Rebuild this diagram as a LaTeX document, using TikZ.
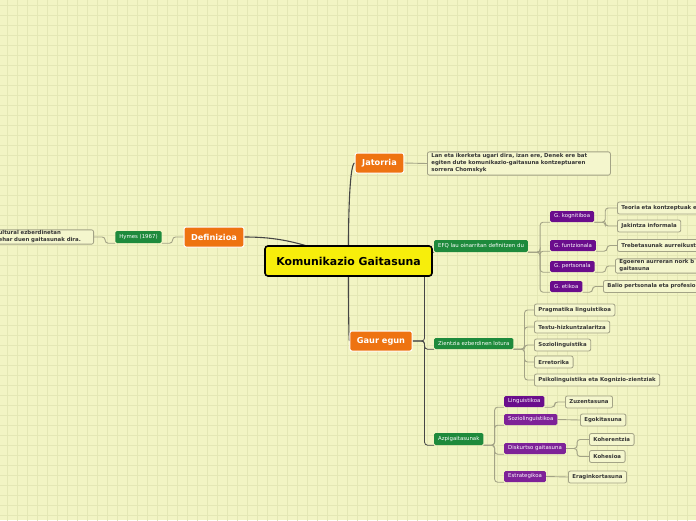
\documentclass[tikz,border=0pt]{standalone}
\usepackage{fontspec}
\setmainfont{DejaVu Sans}
\definecolor{bgmap}{HTML}{F2F4C4}
\definecolor{gridmap}{HTML}{E4E7B5}
\definecolor{orangemap}{HTML}{EE7311}
\definecolor{greenmap}{HTML}{1E8A3C}
\definecolor{purplemap}{HTML}{6A0D8C}
\definecolor{purplelight}{HTML}{7E2298}
\definecolor{yellowmap}{HTML}{F7EE0B}
\definecolor{leafline}{HTML}{A3A386}
\definecolor{stemcol}{HTML}{454545}
\definecolor{leaftext}{HTML}{353535}
\pgfdeclarelayer{paper}
\pgfdeclarelayer{links}
\pgfsetlayers{paper,links,main}
\begin{document}
\begin{tikzpicture}[x=1pt, y=-1pt,
    topicbox/.style={draw=white, line width=1pt, fill=orangemap, rounded corners=2pt,
        text=white, font=\fontsize{8.2}{9}\selectfont\bfseries, minimum height=20pt, inner xsep=7pt},
    tagbox/.style={fill=greenmap, rounded corners=1.5pt, text=white,
        font=\fontsize{5.4}{6}\selectfont, minimum height=12pt, inner xsep=4pt, inner ysep=0pt},
    subbox/.style={tagbox, fill=purplemap, minimum height=11pt},
    leafbox/.style={draw=leafline, line width=0.8pt, fill=bgmap!85!white, rounded corners=2pt,
        text=leaftext, font=\fontsize{5.4}{7}\selectfont\bfseries, minimum height=12pt,
        inner xsep=4pt, inner ysep=1pt},
    stemlink/.style={draw=stemcol, line width=1.1pt},
    branchlink/.style={draw=stemcol, line width=0.8pt, rounded corners=3pt},
    twiglink/.style={draw=leafline, line width=0.9pt, rounded corners=3pt}]

    % Background
    \useasboundingbox (0,0) rectangle (696,520);
    \clip (0,0) rectangle (696,520);
    \begin{pgfonlayer}{paper}
        \fill[bgmap] (0,0) rectangle (696,520);
        \begin{scope}[shift={(7,5)}]
            \draw[gridmap, line width=0.6pt, step=10pt] (-20,-20) grid (700,520);
        \end{scope}
    \end{pgfonlayer}

    % Centre
    \node[draw=black, line width=1.6pt, fill=yellowmap, rounded corners=3pt,
    minimum width=167pt, minimum height=30pt,
    font=\fontsize{10.9}{12}\selectfont\bfseries] (kg) at (348.5,261) {Komunikazio Gaitasuna};

    % Main topics
    \node[topicbox] (jat) at (379.5,163) {Jatorria};
    \node[topicbox] (def) at (214,237) {Definizioa};
    \node[topicbox] (gaur) at (381,341) {Gaur egun};

    % Jatorria
    \node[leafbox, text width=175pt, align=left, anchor=west, inner ysep=2pt] (jattxt)
    at (427,163.5) {Lan eta ikerketa ugari dira, izan ere, Denek ere bat\\
    egiten dute komunikazio-gaitasuna kontzeptuaren\\sorrera Chomskyk};

    % Definizioa
    \node[tagbox] (hymes) at (138.5,237) {Hymes (1967)};
    \node[leafbox, text width=92pt, align=left, anchor=east, inner xsep=3pt] (deftxt)
    at (94,237) {ultural ezberdinetan\\ehar duen gaitasunak dira.};

    % Gaur egun
    \node[tagbox, anchor=west] (efq) at (434,246) {EFQ lau oinarritan definitzen du};
    \node[tagbox, anchor=west, minimum height=11pt] (zient) at (434,343.5) {Zientzia ezberdinen lotura};
    \node[tagbox, anchor=west] (azpi) at (434,439) {Azpigaitasunak};

    % EFQ
    \node[subbox, anchor=west] (gkog) at (550,216.5) {G. kognitiboa};
    \node[subbox, anchor=west] (gfun) at (550,245.5) {G. funtzionala};
    \node[subbox, anchor=west] (gper) at (550,266.5) {G. pertsonala};
    \node[subbox, anchor=west] (geti) at (550,286.5) {G. etikoa};

    \node[leafbox, anchor=west, text width=92pt, align=left] (teoria) at (617,208) {Teoria eta kontzeptuak e};
    \node[leafbox, anchor=west] (jakin) at (617,226) {Jakintza informala};
    \node[leafbox, anchor=west, text width=92pt, align=left] (trebe) at (617,245.5) {Trebetasunak aurreikust};
    \node[leafbox, anchor=west, text width=92pt, align=left] (egoer) at (615,266) {Egoeren aurreran nork b\\gaitasuna};
    \node[leafbox, anchor=west, text width=100pt, align=left] (balio) at (603,286.5) {Balio pertsonala eta profesio};

    % Zientziak
    \node[leafbox, anchor=west] (prag) at (534,310) {Pragmatika linguistikoa};
    \node[leafbox, anchor=west] (testu) at (534,327) {Testu-hizkuntzalaritza};
    \node[leafbox, anchor=west] (sozlin) at (534,345) {Soziolinguistika};
    \node[leafbox, anchor=west] (erret) at (534,362) {Erretorika};
    \node[leafbox, anchor=west] (psiko) at (534,380) {Psikolinguistika eta Kognizio-zientziak};

    % Azpigaitasunak
    \node[subbox, anchor=west] (ling) at (504,401.5) {Linguistikoa};
    \node[subbox, anchor=west, fill=purplelight] (sozio) at (504,419.5) {Soziolinguistikoa};
    \node[subbox, anchor=west, fill=purplelight] (disk) at (504,448.5) {Diskurtso gaitasuna};
    \node[subbox, anchor=west, fill=purplelight] (estr) at (504,476.5) {Estrategikoa};

    \node[leafbox, anchor=west] (zuzen) at (565,402) {Zuzentasuna};
    \node[leafbox, anchor=west] (egoki) at (580,420) {Egokitasuna};
    \node[leafbox, anchor=west] (koher) at (589,439.5) {Koherentzia};
    \node[leafbox, anchor=west] (kohes) at (589,456.5) {Kohesioa};
    \node[leafbox, anchor=west] (eragin) at (568,477) {Eraginkortasuna};

    % Lines
    \begin{pgfonlayer}{links}
    \draw[stemlink] (kg.center) -- (kg.north) .. controls (348.5,210) and (350,163) .. (jat.west);
    \draw[stemlink] (def.east) .. controls (275,237) and (300,241) .. (kg.center);
    \draw[stemlink] (kg.center) -- (kg.south) .. controls (348.5,320) and (349,341) .. (gaur.west);

    \draw[twiglink] (jat.east) -- (jattxt.west);
    \draw[twiglink] (def.west) -- ++(-11,0) |- (hymes.south east);
    \draw[twiglink] (hymes.south west) -- ++(-10,0) |- (deftxt.east);

    \foreach \kid in {efq, zient, azpi}
        \draw[branchlink] (gaur.east) -- ++(12,0) |- (\kid.south west);

    \foreach \kid in {gkog, gfun, gper, geti}
        \draw[twiglink] (efq.south east) -- ++(12,0) |- (\kid.south west);
    \foreach \kid in {teoria, jakin}
        \draw[twiglink] (gkog.south east) -- ++(11,0) |- (\kid.west);
    \draw[twiglink] (gfun.south east) -- ++(11,0) |- (trebe.west);
    \draw[twiglink] (gper.south east) -- ++(11,0) |- (egoer.west);
    \draw[twiglink] (geti.south east) -- ++(10,0) |- (balio.west);

    \foreach \kid in {prag, testu, sozlin, erret, psiko}
        \draw[twiglink] (zient.south east) -- ++(11,0) |- (\kid.west);

    \foreach \kid in {ling, sozio, disk, estr}
        \draw[twiglink] (azpi.south east) -- ++(11,0) |- (\kid.south west);
    \draw[twiglink] (ling.south east) -- ++(10,0) |- (zuzen.west);
    \draw[twiglink] (sozio.east) -- (egoki.west);
    \foreach \kid in {koher, kohes}
        \draw[twiglink] (disk.east) -- ++(11,0) |- (\kid.west);
    \draw[twiglink] (estr.east) -- (eragin.west);
    \end{pgfonlayer}

\end{tikzpicture}
\end{document}
